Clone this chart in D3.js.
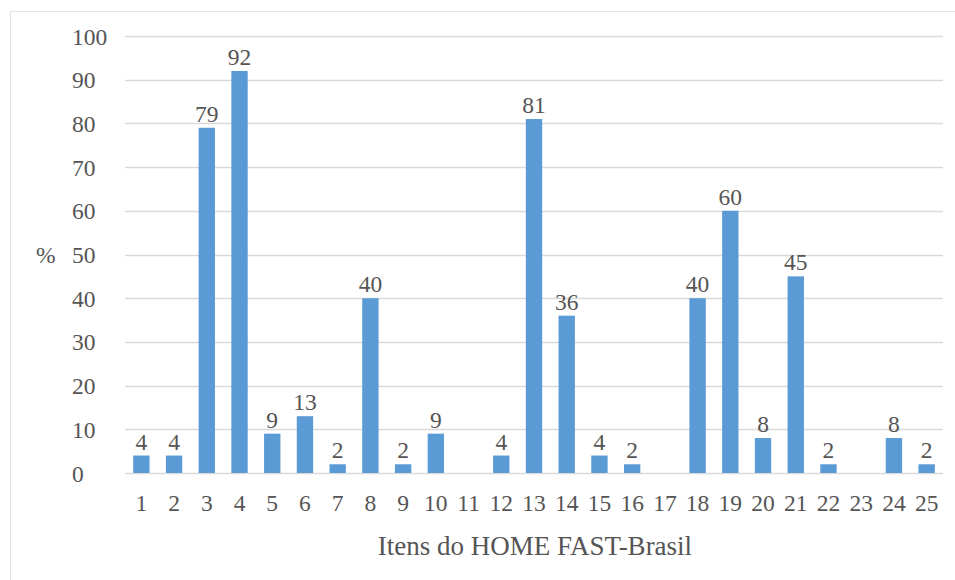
<!DOCTYPE html>
<html>
<head>
<meta charset="utf-8">
<script src="https://cdn.jsdelivr.net/npm/d3@7"></script>
<style>
  html, body { margin: 0; padding: 0; background: #fff; }
  svg { display: block; }
</style>
</head>
<body>
<div id="chart"></div>
<script>
// Percentage per HOME FAST-Brasil item
const items = ["1","2","3","4","5","6","7","8","9","10","11","12","13","14","15","16","17","18","19","20","21","22","23","24","25"];
const percents = [4, 4, 79, 92, 9, 13, 2, 40, 2, 9, 0, 4, 81, 36, 4, 2, 0, 40, 60, 8, 45, 2, 0, 8, 2];
const yTicks = [0, 10, 20, 30, 40, 50, 60, 70, 80, 90, 100];
const xTitle = "Itens do HOME FAST-Brasil";
const yTitle = "%";

const W = 955, H = 580;
const margin = { left: 125, right: 12, top: 36, bottom: 107 };
const fs = 23.5;
const FONT = "'Liberation Serif'";
const INK = "#555555";

// apply serif styling to a text selection
function serif(sel, size) {
  sel.style("font-family", FONT).style("font-size", size + "px").attr("fill", INK);
}

const svg = d3.select("#chart").append("svg")
  .attr("width", W).attr("height", H);

// outer frame
svg.append("rect")
  .attr("x", 10.5).attr("y", 11.5)
  .attr("width", W + 10).attr("height", H + 10)
  .attr("fill", "none").attr("stroke", "#e3e3e3").attr("stroke-width", 1);

const x = d3.scaleBand()
  .domain(items)
  .range([margin.left, W - margin.right])
  .paddingInner(0.5).paddingOuter(0.25);

const y = d3.scaleLinear()
  .domain([0, 100])
  .range([H - margin.bottom, margin.top]);

// horizontal gridlines
svg.append("g")
  .selectAll("line")
  .data(yTicks)
  .join("line")
  .attr("x1", margin.left).attr("x2", W - margin.right)
  .attr("y1", d => Math.round(y(d)) + 0.5).attr("y2", d => Math.round(y(d)) + 0.5)
  .attr("stroke", "#d9d9d9").attr("stroke-width", 1.5);

// y tick labels (left aligned)
const yAxis = d3.axisLeft(y).tickValues(yTicks).tickSize(0).tickPadding(0);
const gy = svg.append("g")
  .attr("transform", `translate(72,0)`)
  .call(yAxis)
  .attr("font-family", null);
gy.select(".domain").remove();
gy.selectAll("text")
  .attr("text-anchor", "start")
  .attr("x", 0)
  .attr("dy", "0.34em")
  .call(serif, fs);

// bars
svg.append("g")
  .selectAll("rect")
  .data(items.map((k, i) => ({ k, v: percents[i] })))
  .join("rect")
  .attr("x", d => x(d.k))
  .attr("width", x.bandwidth())
  .attr("y", d => y(d.v))
  .attr("height", d => y(0) - y(d.v))
  .attr("fill", "#5b9bd5");

// value labels (none for zero-valued items)
svg.append("g")
  .selectAll("text")
  .data(items.map((k, i) => ({ k, v: percents[i] })).filter(d => d.v > 0))
  .join("text")
  .attr("x", d => x(d.k) + x.bandwidth() / 2)
  .attr("y", d => y(d.v) - 6)
  .attr("text-anchor", "middle")
  .call(serif, fs)
  .text(d => d.v);

// x axis labels
const xAxis = d3.axisBottom(x).tickSize(0).tickPadding(0);
const gx = svg.append("g")
  .attr("transform", `translate(0,${y(0)})`)
  .call(xAxis)
  .attr("font-family", null);
gx.select(".domain").remove();
gx.selectAll("text")
  .attr("y", 38)
  .attr("dy", 0)
  .call(serif, fs);

// axis titles
svg.append("text")
  .attr("x", 535).attr("y", 555)
  .attr("text-anchor", "middle")
  .call(serif, 27)
  .text(xTitle);

svg.append("text")
  .attr("x", 36).attr("y", 263)
  .call(serif, fs)
  .text(yTitle);
</script>
</body>
</html>
